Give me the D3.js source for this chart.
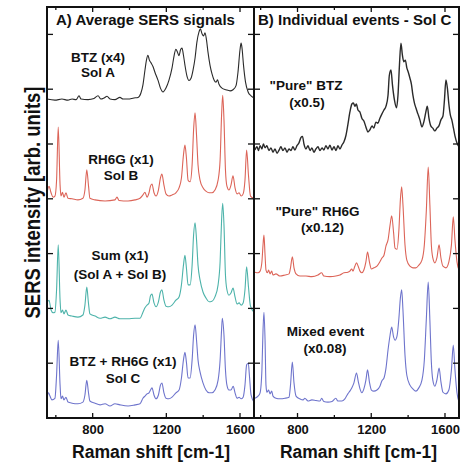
<!DOCTYPE html>
<html><head><meta charset="utf-8">
<script src="https://cdn.jsdelivr.net/npm/d3@7"></script>
<style>
body{margin:0;background:#fff;}
text{font-family:"Liberation Sans",Arial,sans-serif;font-weight:bold;fill:#111;}
</style></head>
<body><svg id="c" width="461" height="464"></svg>
<script>
// ---- Data (Raman shift cm-1, intensity in arb. units with offsets as plotted) ----
const xTicks = [600, 800, 1000, 1200, 1400, 1600];
const xTickLabels = [800, 1200, 1600];
const yTicks = [1, 2, 3, 4, 5, 6, 7];

const btzSolA = [[552,5.82],[595,5.80],[633,5.82],[666,5.80],[688,5.82],[710,5.81],[726,5.88],[737,5.82],[775,5.81],[807,5.83],[829,5.88],[845,5.82],[862,5.84],[878,5.87],[894,5.82],[921,5.81],[948,5.85],[965,5.82],[992,5.82],[1024,5.84],[1046,5.85],[1062,5.93],[1073,6.08],[1084,6.35],[1092,6.53],[1100,6.62],[1108,6.53],[1117,6.48],[1128,6.41],[1138,6.31],[1155,6.16],[1168,6.02],[1182,5.95],[1198,6.02],[1214,6.16],[1231,6.39],[1242,6.61],[1252,6.73],[1260,6.68],[1269,6.61],[1277,6.72],[1285,6.75],[1293,6.62],[1301,6.44],[1312,6.24],[1323,6.16],[1334,6.20],[1345,6.35],[1356,6.57],[1366,6.86],[1377,7.04],[1385,7.10],[1394,7.01],[1402,6.97],[1410,7.03],[1418,6.90],[1426,6.68],[1437,6.44],[1448,6.28],[1459,6.17],[1470,6.13],[1478,6.17],[1486,6.09],[1502,6.02],[1524,5.99],[1546,5.97],[1562,5.99],[1578,6.06],[1589,6.31],[1600,6.72],[1606,6.84],[1611,6.75],[1619,6.44],[1630,6.13],[1644,5.95],[1660,5.88],[1676,5.84]];

const rh6gSolB = [[552,4.11],[563,4.23],[574,4.11],[585,4.03],[595,4.05],[604,4.34],[613,5.31],[623,4.25],[628,4.05],[636,4.12],[644,4.03],[655,4.11],[666,4.01],[688,4.00],[720,3.98],[747,4.01],[758,4.16],[768,4.53],[777,4.25],[785,4.01],[813,3.98],[867,3.96],[921,3.98],[932,4.03],[943,3.97],[992,3.96],[1030,3.98],[1057,4.01],[1073,4.07],[1084,4.12],[1095,4.03],[1106,4.11],[1114,4.23],[1122,4.27],[1133,4.11],[1144,4.05],[1157,4.16],[1168,4.38],[1176,4.45],[1187,4.25],[1198,4.09],[1214,4.05],[1231,4.07],[1252,4.11],[1269,4.20],[1282,4.38],[1293,4.80],[1301,4.98],[1309,4.75],[1318,4.34],[1329,4.31],[1340,4.62],[1348,5.26],[1356,5.57],[1364,5.16],[1372,4.62],[1383,4.34],[1399,4.20],[1415,4.14],[1432,4.11],[1448,4.11],[1464,4.16],[1481,4.34],[1492,4.71],[1500,5.53],[1506,5.89],[1513,5.44],[1521,4.53],[1529,4.23],[1540,4.16],[1551,4.25],[1562,4.42],[1573,4.20],[1584,4.09],[1595,4.11],[1606,4.05],[1617,4.09],[1627,4.34],[1636,4.89],[1646,4.43],[1657,4.05],[1676,4.01]];

const sumAB = [[552,2.10],[563,2.15],[574,1.97],[585,1.92],[595,1.93],[604,2.34],[613,3.16],[623,2.15],[628,1.92],[636,1.97],[644,1.90],[655,1.97],[666,1.88],[688,1.86],[720,1.84],[747,1.88],[758,2.06],[768,2.39],[777,2.10],[785,1.90],[813,1.86],[840,1.82],[867,1.84],[894,1.81],[921,1.84],[948,1.81],[992,1.81],[1030,1.82],[1057,1.82],[1073,1.93],[1084,2.01],[1095,2.06],[1106,2.10],[1114,2.23],[1122,2.26],[1133,2.10],[1144,2.03],[1157,2.12],[1168,2.30],[1176,2.34],[1187,2.15],[1198,2.04],[1214,2.03],[1231,2.06],[1252,2.15],[1269,2.21],[1282,2.43],[1293,2.79],[1301,2.97],[1309,2.74],[1318,2.43],[1329,2.43],[1340,2.79],[1348,3.34],[1356,3.56],[1364,3.25],[1372,2.79],[1383,2.52],[1399,2.30],[1415,2.19],[1432,2.12],[1448,2.13],[1464,2.21],[1481,2.43],[1492,2.85],[1500,3.61],[1506,3.92],[1513,3.52],[1521,2.61],[1529,2.34],[1540,2.24],[1551,2.28],[1562,2.37],[1573,2.21],[1584,2.08],[1595,2.10],[1606,2.06],[1617,2.10],[1627,2.34],[1636,2.76],[1646,2.39],[1657,2.04],[1676,1.93]];

const btzRh6gSolC = [[552,0.36],[560,0.46],[568,0.40],[579,0.33],[595,0.36],[604,0.78],[613,1.42],[623,0.60],[628,0.35],[636,0.40],[644,0.33],[655,0.38],[666,0.29],[688,0.27],[720,0.26],[747,0.29],[758,0.42],[768,0.69],[777,0.47],[785,0.31],[813,0.27],[840,0.24],[867,0.26],[894,0.22],[921,0.26],[948,0.24],[992,0.22],[1030,0.24],[1057,0.26],[1073,0.36],[1084,0.40],[1095,0.44],[1106,0.46],[1114,0.51],[1122,0.55],[1133,0.42],[1144,0.35],[1157,0.42],[1168,0.60],[1176,0.64],[1187,0.46],[1198,0.36],[1214,0.35],[1231,0.38],[1252,0.46],[1269,0.51],[1282,0.73],[1293,1.06],[1301,1.20],[1309,1.02],[1318,0.73],[1329,0.73],[1340,1.06],[1348,1.51],[1356,1.70],[1364,1.42],[1372,1.06],[1383,0.84],[1399,0.64],[1415,0.51],[1432,0.46],[1448,0.46],[1464,0.51],[1481,0.69],[1492,1.06],[1500,1.61],[1504,1.82],[1513,1.51],[1521,0.88],[1529,0.60],[1540,0.51],[1551,0.51],[1563,0.58],[1573,0.46],[1584,0.36],[1595,0.38],[1606,0.35],[1617,0.38],[1627,0.60],[1636,0.97],[1645,1.00],[1651,0.78],[1660,0.42],[1676,0.29]];

const pureBTZ = [[569,4.89],[580,4.95],[588,4.88],[597,4.97],[607,4.91],[615,5.00],[624,4.93],[634,4.97],[645,4.88],[656,4.93],[667,4.85],[678,4.91],[689,4.83],[700,4.89],[710,4.95],[721,4.88],[732,4.93],[743,4.85],[754,4.91],[765,4.88],[775,4.95],[786,4.89],[797,4.97],[808,5.02],[819,5.12],[827,5.14],[835,5.00],[846,4.91],[857,4.97],[868,4.88],[878,4.93],[889,4.85],[900,4.91],[911,4.95],[922,4.88],[933,4.93],[943,4.89],[954,4.97],[965,4.91],[976,4.98],[987,4.89],[998,4.95],[1009,4.88],[1019,4.97],[1030,4.91],[1041,4.98],[1052,5.04],[1063,5.16],[1073,5.35],[1084,5.58],[1095,5.73],[1103,5.75],[1111,5.69],[1119,5.73],[1128,5.62],[1139,5.58],[1149,5.47],[1160,5.42],[1171,5.31],[1182,5.22],[1193,5.26],[1204,5.33],[1214,5.29],[1225,5.40],[1236,5.38],[1247,5.47],[1258,5.55],[1269,5.62],[1280,5.69],[1291,5.89],[1298,6.25],[1307,6.35],[1315,6.08],[1326,5.80],[1337,5.66],[1345,5.89],[1353,6.44],[1361,6.84],[1369,6.62],[1377,6.50],[1385,6.53],[1393,6.39],[1401,6.31],[1410,6.20],[1418,6.09],[1426,5.89],[1434,5.75],[1442,5.66],[1453,5.55],[1464,5.44],[1475,5.31],[1485,5.40],[1496,5.58],[1504,5.69],[1513,5.47],[1523,5.33],[1534,5.29],[1545,5.24],[1556,5.29],[1567,5.33],[1578,5.44],[1589,5.51],[1597,5.80],[1605,6.17],[1613,6.02],[1621,5.73],[1629,5.53],[1637,5.44],[1646,5.29],[1654,5.15],[1665,5.02],[1676,4.95]];

const pureRH6G = [[569,2.66],[586,2.65],[597,2.68],[607,2.85],[613,3.16],[618,3.34],[624,2.97],[629,2.70],[637,2.65],[643,2.70],[651,2.63],[660,2.68],[667,2.61],[683,2.63],[705,2.59],[732,2.61],[754,2.63],[762,2.74],[772,2.94],[781,2.74],[792,2.63],[813,2.59],[846,2.59],[878,2.58],[911,2.61],[931,2.65],[943,2.59],[976,2.58],[1008,2.59],[1030,2.61],[1052,2.65],[1073,2.66],[1084,2.68],[1094,2.72],[1101,2.68],[1111,2.77],[1120,2.83],[1130,2.76],[1139,2.68],[1149,2.65],[1160,2.70],[1171,2.85],[1180,3.03],[1190,2.85],[1201,2.72],[1214,2.74],[1231,2.77],[1247,2.85],[1258,2.92],[1269,2.97],[1280,3.14],[1291,3.25],[1302,3.52],[1311,3.69],[1321,3.39],[1329,3.10],[1340,3.08],[1350,3.43],[1358,3.98],[1365,4.22],[1372,3.89],[1383,3.16],[1393,2.88],[1410,2.77],[1426,2.74],[1442,2.74],[1458,2.79],[1475,2.88],[1488,3.16],[1499,3.80],[1509,4.58],[1518,3.89],[1526,3.16],[1534,2.92],[1545,2.83],[1556,2.92],[1568,3.16],[1578,2.92],[1589,2.77],[1605,2.74],[1621,2.85],[1635,3.16],[1645,3.67],[1654,3.25],[1665,2.85],[1676,2.70]];

const mixedEvent = [[569,0.36],[586,0.40],[597,0.46],[607,0.88],[613,1.61],[618,1.93],[624,1.42],[629,0.60],[634,0.47],[643,0.51],[651,0.44],[660,0.49],[667,0.40],[683,0.36],[705,0.35],[732,0.36],[754,0.38],[762,0.60],[772,1.02],[781,0.64],[792,0.40],[813,0.35],[830,0.33],[840,0.36],[857,0.31],[878,0.33],[900,0.32],[922,0.31],[931,0.36],[943,0.30],[965,0.29],[987,0.30],[1008,0.36],[1019,0.31],[1041,0.31],[1057,0.35],[1073,0.44],[1084,0.49],[1095,0.55],[1106,0.64],[1120,0.82],[1130,0.66],[1139,0.53],[1149,0.46],[1160,0.53],[1171,0.69],[1180,0.88],[1190,0.66],[1201,0.51],[1214,0.49],[1231,0.51],[1247,0.58],[1258,0.68],[1269,0.73],[1280,0.91],[1291,1.24],[1302,1.51],[1311,1.66],[1321,1.48],[1329,1.42],[1340,1.50],[1350,1.82],[1358,2.19],[1365,2.34],[1372,1.97],[1383,1.15],[1393,0.78],[1410,0.60],[1426,0.53],[1442,0.49],[1458,0.55],[1475,0.69],[1488,1.06],[1499,1.82],[1509,2.48],[1518,1.79],[1526,1.02],[1534,0.69],[1545,0.58],[1556,0.69],[1568,0.91],[1578,0.66],[1589,0.47],[1605,0.44],[1621,0.51],[1635,0.88],[1645,1.33],[1654,0.88],[1665,0.46],[1676,0.29]];

const panelTitles = ["A) Average SERS signals", "B) Individual events - Sol C"];
const labelsA = [["BTZ (x4)", "Sol A"], ["RH6G (x1)", "Sol B"], ["Sum (x1)", "(Sol A + Sol B)"], ["BTZ + RH6G (x1)", "Sol C"]];
const labelsB = [["\"Pure\" BTZ", "(x0.5)"], ["\"Pure\" RH6G", "(x0.12)"], ["Mixed event", "(x0.08)"]];

// ---- Drawing ----
const svg = d3.select("#c");
const yTop = 7, yBottom = 418;
const y = d3.scaleLinear().domain([0, 7.5]).range([yBottom, yTop]);
const xA = d3.scaleLinear().domain([552, 1676]).range([47, 254]);
const xB = d3.scaleLinear().domain([564, 1676]).range([254, 459]);

const colors = {black: "#2a2a2a", red: "#dc6458", teal: "#4db3aa", blue: "#6e74cc"};

function drawSeries(x, data, color, w) {
  const line = d3.line().x(d => x(d[0])).y(d => y(d[1])).curve(d3.curveMonotoneX);
  svg.append("path").datum(data).attr("d", line)
    .attr("fill", "none").attr("stroke", color).attr("stroke-width", w || 1.1)
    .attr("stroke-linejoin", "round");
}

function drawPanel(x) {
  const [x0, x1] = x.range();
  const g = svg.append("g");
  const major = d3.axisBottom(x).tickValues(xTicks).tickSize(0).tickFormat(d => xTickLabels.includes(d) ? d : "");
  const ax = g.append("g").attr("transform", `translate(0,${yBottom})`).call(major);
  ax.select(".domain").remove();
  ax.selectAll("text").attr("dy", 0).attr("y", 16).style("font-size", "13px").style("font-family", "Liberation Sans, Arial, sans-serif").style("font-weight", "bold").attr("fill", "#111");
  xTicks.forEach(t => {
    const L = xTickLabels.includes(t) ? 5 : 3;
    g.append("line").attr("x1", x(t)).attr("x2", x(t)).attr("y1", yBottom).attr("y2", yBottom - L).attr("stroke", "#111").attr("stroke-width", 1.3);
    g.append("line").attr("x1", x(t)).attr("x2", x(t)).attr("y1", yTop).attr("y2", yTop + L).attr("stroke", "#111").attr("stroke-width", 1.3);
  });
  yTicks.forEach(t => {
    g.append("line").attr("x1", x0).attr("x2", x0 + 6).attr("y1", y(t)).attr("y2", y(t)).attr("stroke", "#111").attr("stroke-width", 1.3);
    g.append("line").attr("x1", x1).attr("x2", x1 - 6).attr("y1", y(t)).attr("y2", y(t)).attr("stroke", "#111").attr("stroke-width", 1.3);
  });
  g.append("rect").attr("x", x0).attr("y", yTop).attr("width", x1 - x0).attr("height", yBottom - yTop)
    .attr("fill", "none").attr("stroke", "#111").attr("stroke-width", 2);
}

drawSeries(xA, btzSolA, colors.black);
drawSeries(xA, rh6gSolB, colors.red);
drawSeries(xA, sumAB, colors.teal);
drawSeries(xA, btzRh6gSolC, colors.blue);
drawSeries(xB, pureBTZ, colors.black, 1.4);
drawSeries(xB, pureRH6G, colors.red);
drawSeries(xB, mixedEvent, colors.blue);
drawPanel(xA);
drawPanel(xB);

svg.append("text").attr("x", 56).attr("y", 25).attr("font-size", 15).text(panelTitles[0]);
svg.append("text").attr("x", 258).attr("y", 25).attr("font-size", 15).text(panelTitles[1]);

const posA = [[98, 61.5, 76.5], [121, 164, 180], [120, 260, 279], [123, 365.5, 382.5]];
labelsA.forEach((l, i) => {
  const [cx, y1, y2] = posA[i];
  svg.append("text").attr("x", cx).attr("y", y1).attr("text-anchor", "middle").attr("font-size", 13.5).text(l[0]);
  svg.append("text").attr("x", cx).attr("y", y2).attr("text-anchor", "middle").attr("font-size", 13.5).text(l[1]);
});
const posB = [[306, 307, 90, 106.5], [317.5, 322.5, 216, 231.5], [325.5, 325, 336, 353]];
labelsB.forEach((l, i) => {
  const [c1, c2, y1, y2] = posB[i];
  svg.append("text").attr("x", c1).attr("y", y1).attr("text-anchor", "middle").attr("font-size", 13.5).text(l[0]);
  svg.append("text").attr("x", c2).attr("y", y2).attr("text-anchor", "middle").attr("font-size", 13.5).text(l[1]);
});

svg.append("text").attr("transform", "translate(40,202.5) rotate(-90)").attr("text-anchor", "middle")
  .attr("font-size", 22).attr("textLength", 232).attr("lengthAdjust", "spacingAndGlyphs").text("SERS intensity [arb. units]");
svg.append("text").attr("x", 151).attr("y", 458).attr("text-anchor", "middle").attr("font-size", 18)
  .attr("textLength", 158).attr("lengthAdjust", "spacingAndGlyphs").text("Raman shift [cm-1]");
svg.append("text").attr("x", 358.5).attr("y", 458).attr("text-anchor", "middle").attr("font-size", 18)
  .attr("textLength", 157).attr("lengthAdjust", "spacingAndGlyphs").text("Raman shift [cm-1]");
</script></body></html>
